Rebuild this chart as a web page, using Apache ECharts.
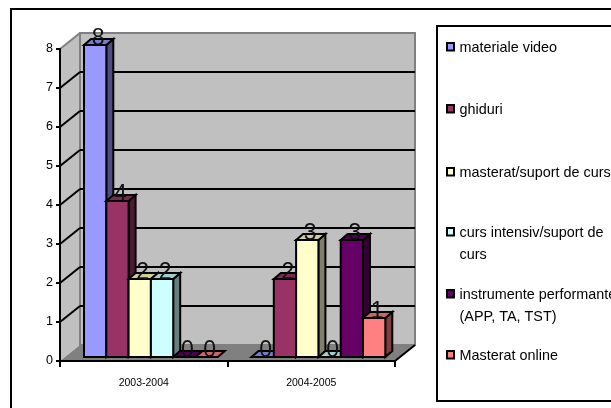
<!DOCTYPE html>
<html>
<head>
<meta charset="utf-8">
<style>html,body{margin:0;padding:0;background:#fff}#c{width:611px;height:408px}</style>
<script src="https://cdn.jsdelivr.net/npm/echarts@6/dist/echarts.min.js"></script>
</head>
<body>
<div id="c"></div>
<script>
const categories = ['2003-2004', '2004-2005'];
const yTicks = [0, 1, 2, 3, 4, 5, 6, 7, 8];
const seriesNames = ['materiale video', 'ghiduri', 'masterat/suport de curs', 'curs intensiv/suport de\ncurs', 'instrumente performante\n(APP, TA, TST)', 'Masterat online'];
const materialeVideo = [8, 0];
const ghiduri = [4, 2];
const masterat = [2, 3];
const cursIntensiv = [2, 0];
const instrumente = [0, 3];
const masteratOnline = [0, 1];
const seriesValues = [materialeVideo, ghiduri, masterat, cursIntensiv, instrumente, masteratOnline];
const colors = ['#9999FF', '#993366', '#FFFFCC', '#CCFFFF', '#660066', '#FF8080'];
const legendRows = [47, 109, 172, 232, 294, 355];

const FONT = '"Liberation Sans", Arial, sans-serif';
const WALL_DX = 20, WALL_DY = -16;
const BAR_DX = 7, BAR_DY = -6, BAR_LIFT = -4, BAR_W = 22.3, GROUP_PAD = 24;

function shade(hex, k) {
  const n = parseInt(hex.slice(1), 16);
  const c = [(n >> 16) & 255, (n >> 8) & 255, n & 255].map(v => Math.round(v * k));
  return 'rgb(' + c.join(',') + ')';
}
function poly(points, fill, stroke, lw) {
  return { type: 'polygon', shape: { points }, style: { fill, stroke, lineWidth: lw, lineJoin: 'miter' } };
}
function line(a, b, stroke, lw) {
  return { type: 'line', shape: { x1: a[0], y1: a[1], x2: b[0], y2: b[1] }, style: { stroke, lineWidth: lw } };
}

function renderWall(params, api) {
  const cs = params.coordSys;
  const v = api.value(1);
  const y = api.coord([0, v])[1];
  const l = cs.x, r = cs.x + cs.width;
  const children = [];
  if (v === 0) {
    const top = api.coord([0, 8])[1];
    children.push(poly([[l, top], [l + WALL_DX, top + WALL_DY], [l + WALL_DX, y + WALL_DY], [l, y]], '#C0C0C0', null, 0));
    children.push(poly([[l + WALL_DX, top + WALL_DY], [r + WALL_DX, top + WALL_DY], [r + WALL_DX, y + WALL_DY], [l + WALL_DX, y + WALL_DY]], '#C0C0C0', '#808080', 2));
    children.push(poly([[l, y], [l + WALL_DX, y + WALL_DY], [r + WALL_DX, y + WALL_DY], [r, y]], '#808080', null, 0));
    children.push(line([l, top], [l + WALL_DX, top + WALL_DY], '#808080', 2));
    children.push(line([r, y], [r + WALL_DX, y + WALL_DY], '#000', 2));
  } else if (v < 8) {
    children.push(line([l, y], [l + WALL_DX, y + WALL_DY], '#000', 2));
    children.push(line([l + WALL_DX, y + WALL_DY], [r + WALL_DX, y + WALL_DY], '#000', 2));
  }
  return { type: 'group', children };
}

function makeBarRenderer(si) {
  return function (params, api) {
    const cat = api.value(0), val = api.value(1);
    const base = api.coord([cat, 0]);
    const tip = api.coord([cat, val]);
    const size = api.size([1, 0])[0];
    const x0 = base[0] - size / 2 + GROUP_PAD + si * BAR_W;
    const x1 = x0 + BAR_W;
    const yb = base[1] + BAR_LIFT, yt = tip[1] + BAR_LIFT;
    const col = colors[si];
    const children = [];
    if (val > 0) {
      children.push(poly([[x1, yt], [x1 + BAR_DX, yt + BAR_DY], [x1 + BAR_DX, yb + BAR_DY], [x1, yb]], shade(col, 0.5), '#000', 2));
    }
    children.push(poly([[x0, yt], [x0 + BAR_DX, yt + BAR_DY], [x1 + BAR_DX, yt + BAR_DY], [x1, yt]], shade(col, 0.8), '#000', 2));
    if (val > 0) {
      children.push({ type: 'rect', shape: { x: x0, y: yt, width: BAR_W, height: yb - yt }, style: { fill: col, stroke: '#000', lineWidth: 2 } });
    }
    children.push({
      type: 'text',
      style: { x: (x0 + x1) / 2 + 3, y: yt - 6, text: String(val), fill: '#111', font: '23px ' + FONT, align: 'center', verticalAlign: 'middle' }
    });
    return { type: 'group', children };
  };
}

const legendGraphics = [];
seriesNames.forEach((name, i) => {
  legendGraphics.push({ type: 'rect', shape: { x: 447, y: legendRows[i] - 4, width: 7, height: 7.5 }, style: { fill: colors[i], stroke: '#000', lineWidth: 2 } });
  legendGraphics.push({ type: 'text', style: { x: 459.5, y: legendRows[i] - 10, text: name, fill: '#000', font: '14.4px ' + FONT, lineHeight: 22, align: 'left', verticalAlign: 'top' } });
});

const chart = echarts.init(document.getElementById('c'), null, { renderer: 'canvas', width: 611, height: 408 });
chart.setOption({
  animation: false,
  backgroundColor: '#fff',
  grid: { left: 60, top: 49, width: 335, height: 312, containLabel: false },
  xAxis: {
    type: 'category', data: categories, z: 6, boundaryGap: true,
    axisLine: { lineStyle: { color: '#000', width: 2 } },
    axisTick: { show: true, length: 6, lineStyle: { color: '#000', width: 2 } },
    axisLabel: { color: '#000', fontFamily: FONT, fontSize: 10.5, margin: 17 },
    splitLine: { show: false }
  },
  yAxis: {
    type: 'value', min: 0, max: 8, interval: 1, z: 6,
    axisLine: { show: true, lineStyle: { color: '#000', width: 2 } },
    axisTick: { show: true, length: 4, lineStyle: { color: '#000', width: 2 } },
    axisLabel: { color: '#000', fontFamily: FONT, fontSize: 12.5, margin: 7 },
    splitLine: { show: false }
  },
  legend: { show: false },
  tooltip: { show: false },
  graphic: [
    { type: 'rect', z: -10, silent: true, shape: { x: 11, y: 9, width: 700, height: 500 }, style: { fill: 'none', stroke: '#000', lineWidth: 2 } },
    { type: 'rect', z: -9, silent: true, shape: { x: 437, y: 26, width: 300, height: 375 }, style: { fill: '#fff', stroke: '#000', lineWidth: 2 } },
    { type: 'group', z: -8, silent: true, children: legendGraphics }
  ],
  series: [
    { type: 'custom', name: 'walls', z: 1, silent: true, clip: false, renderItem: renderWall, data: yTicks.map(v => [0, v]) }
  ].concat(seriesNames.map((name, si) => ({
    type: 'custom', name, z: 3 + si * 0.01, clip: false, silent: true,
    renderItem: makeBarRenderer(si),
    encode: { x: 0, y: 1 },
    data: seriesValues[si].map((v, c) => [c, v])
  })))
});
</script>
</body>
</html>
